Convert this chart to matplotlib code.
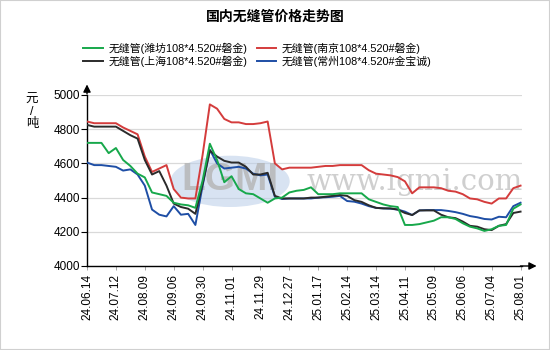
import matplotlib
matplotlib.use("Agg")
import matplotlib.pyplot as plt
from matplotlib.patches import Ellipse, Rectangle
import numpy as np

plt.rcParams["font.family"] = ["Liberation Sans", "Noto Sans CJK SC", "DejaVu Sans"]

# ── data (quarter-interval samples between date ticks) ───────────────────────
tick_labels = ["24.06.14", "24.07.12", "24.08.09", "24.09.06", "24.09.30",
               "24.11.01", "24.11.29", "24.12.27", "25.01.17", "25.02.14",
               "25.03.14", "25.04.11", "25.05.09", "25.06.06", "25.07.04",
               "25.08.01"]

weifang = [4720, 4720, 4720, 4660, 4690, 4620, 4585, 4540, 4518, 4430,
           4420, 4410, 4370, 4360, 4355, 4340, 4500, 4715, 4620, 4490,
           4525, 4450, 4425, 4420, 4395, 4370, 4395, 4400, 4430, 4440,
           4445, 4460, 4420, 4420, 4420, 4425, 4425, 4425, 4425, 4390,
           4375, 4360, 4350, 4345, 4240, 4240, 4245, 4255, 4265, 4285,
           4285, 4275, 4250, 4230, 4220, 4205, 4215, 4235, 4240, 4335,
           4360]

nanjing = [4845, 4835, 4835, 4835, 4835, 4810, 4790, 4770, 4640, 4550,
           4570, 4590, 4450, 4400, 4395, 4395, 4650, 4945, 4920, 4860,
           4840, 4840, 4830, 4830, 4835, 4845, 4600, 4565, 4575, 4575,
           4575, 4575, 4580, 4585, 4585, 4590, 4590, 4590, 4590, 4560,
           4540, 4535, 4530, 4520, 4495, 4425, 4460, 4460, 4460, 4455,
           4440, 4435, 4420, 4395, 4390, 4375, 4365, 4395, 4395, 4455,
           4470]

shanghai = [4825, 4815, 4815, 4815, 4815, 4790, 4765, 4745, 4620, 4535,
            4555, 4470, 4365, 4345, 4335, 4305, 4480, 4675, 4640, 4615,
            4605, 4605, 4580, 4535, 4535, 4545, 4410, 4395, 4395, 4395,
            4395, 4400, 4400, 4405, 4410, 4415, 4410, 4385, 4375, 4355,
            4340, 4337, 4337, 4330, 4310, 4298, 4325, 4325, 4325, 4300,
            4285, 4280, 4260, 4235, 4230, 4215, 4210, 4235, 4245, 4310,
            4318]

changzhou = [4605, 4590, 4590, 4585, 4580, 4558, 4565, 4535, 4470, 4330,
             4300, 4290, 4350, 4300, 4305, 4240, 4470, 4680, 4600, 4570,
             4575, 4580, 4570, 4540, 4530, 4535, 4405, 4392, 4395, 4395,
             4395, 4395, 4400, 4402, 4405, 4410, 4380, 4376, 4365, 4350,
             4340, 4337, 4335, 4330, 4318, 4298, 4325, 4327, 4327, 4327,
             4322, 4315, 4305, 4292, 4285, 4275, 4272, 4288, 4285, 4350,
             4370]

names = ["无缝管(潍坊108*4.520#磐金)", "无缝管(南京108*4.520#磐金)",
         "无缝管(上海108*4.520#磐金)", "无缝管(常州108*4.520#金宝诚)"]

# ── colours ──────────────────────────────────────────────────────────────────
C_GREEN = "#17a84b"
C_RED   = "#d43c3c"
C_BLACK = "#2b2b2b"
C_BLUE  = "#1e4ea5"

fig = plt.figure(figsize=(5.5, 3.5), dpi=100)
fig.patches.append(Rectangle((0, 0), 1, 1, transform=fig.transFigure,
                             fill=False, edgecolor="#d0d0d0", lw=1.5))
ax = fig.add_axes([87 / 550, 1 - 266 / 350, 435 / 550, 171 / 350])

x = np.arange(len(weifang))

# watermark logo + site text
ax.add_patch(Ellipse((19.8, 4495), 16.5, 300, facecolor="#b9cde8",
                     edgecolor="none", alpha=0.55, zorder=1))
ax.text(19.8, 4505, "LGMI", ha="center", va="center", fontsize=28,
        fontweight="bold", color="#b4b4b4", alpha=0.8, zorder=1)
ax.text(45.4, 4490, "www.lgmi.com", ha="center", va="center",
        fontsize=21, family="DejaVu Serif", color="#cfcfcf", zorder=1)

l_red,   = ax.plot(x, nanjing,   color=C_RED,   lw=1.4, zorder=3)
l_blue,  = ax.plot(x, changzhou, color=C_BLUE,  lw=1.4, zorder=3)
l_black, = ax.plot(x, shanghai,  color=C_BLACK, lw=1.4, zorder=3)
l_green, = ax.plot(x, weifang,   color=C_GREEN, lw=1.4, zorder=3)

ax.set_xlim(0, 60.2)
ax.set_ylim(4000, 5000)
ax.set_yticks(np.arange(4000, 5001, 200))
ax.set_xticks(np.arange(0, 61, 4))
ax.set_xticklabels(tick_labels, rotation=90, fontsize=8.5)
ax.tick_params(axis="y", labelsize=8.5, length=4, width=0.8, pad=1)
ax.tick_params(axis="x", length=3, width=0.6, color="#999999", pad=3)
ax.yaxis.grid(True, color="#d9d9d9", lw=0.9)
ax.set_axisbelow(True)
for side in ("top", "right"):
    ax.spines[side].set_visible(False)
for side in ("left", "bottom"):
    ax.spines[side].set_linewidth(1.0)

# axis arrows
arrow = dict(arrowstyle="-|>", color="black", lw=1.0, mutation_scale=11)
ax.annotate("", xy=(0, 1.078), xytext=(0, 0.99), xycoords="axes fraction",
            arrowprops=arrow, annotation_clip=False)
ax.annotate("", xy=(1.04, 0), xytext=(0.99, 0), xycoords="axes fraction",
            arrowprops=arrow, annotation_clip=False)

fig.text(32 / 550, 1 - 112 / 350, "元\n/\n吨", ha="center", va="center",
         fontsize=9, linespacing=1.05)

fig.text(0.5, 1 - 17 / 350, "国内无缝管价格走势图", ha="center", va="center",
         fontsize=10, fontweight="bold")

fig.legend([l_green, l_black, l_red, l_blue],
           [names[0], names[2], names[1], names[3]],
           ncol=2, loc="center", bbox_to_anchor=(0.468, 1 - 55 / 350),
           frameon=False, fontsize=7.8, handlelength=1.8, handletextpad=0.5,
           columnspacing=0.9, labelspacing=0.15, borderpad=0)

fig.savefig("out.png", dpi=100)
